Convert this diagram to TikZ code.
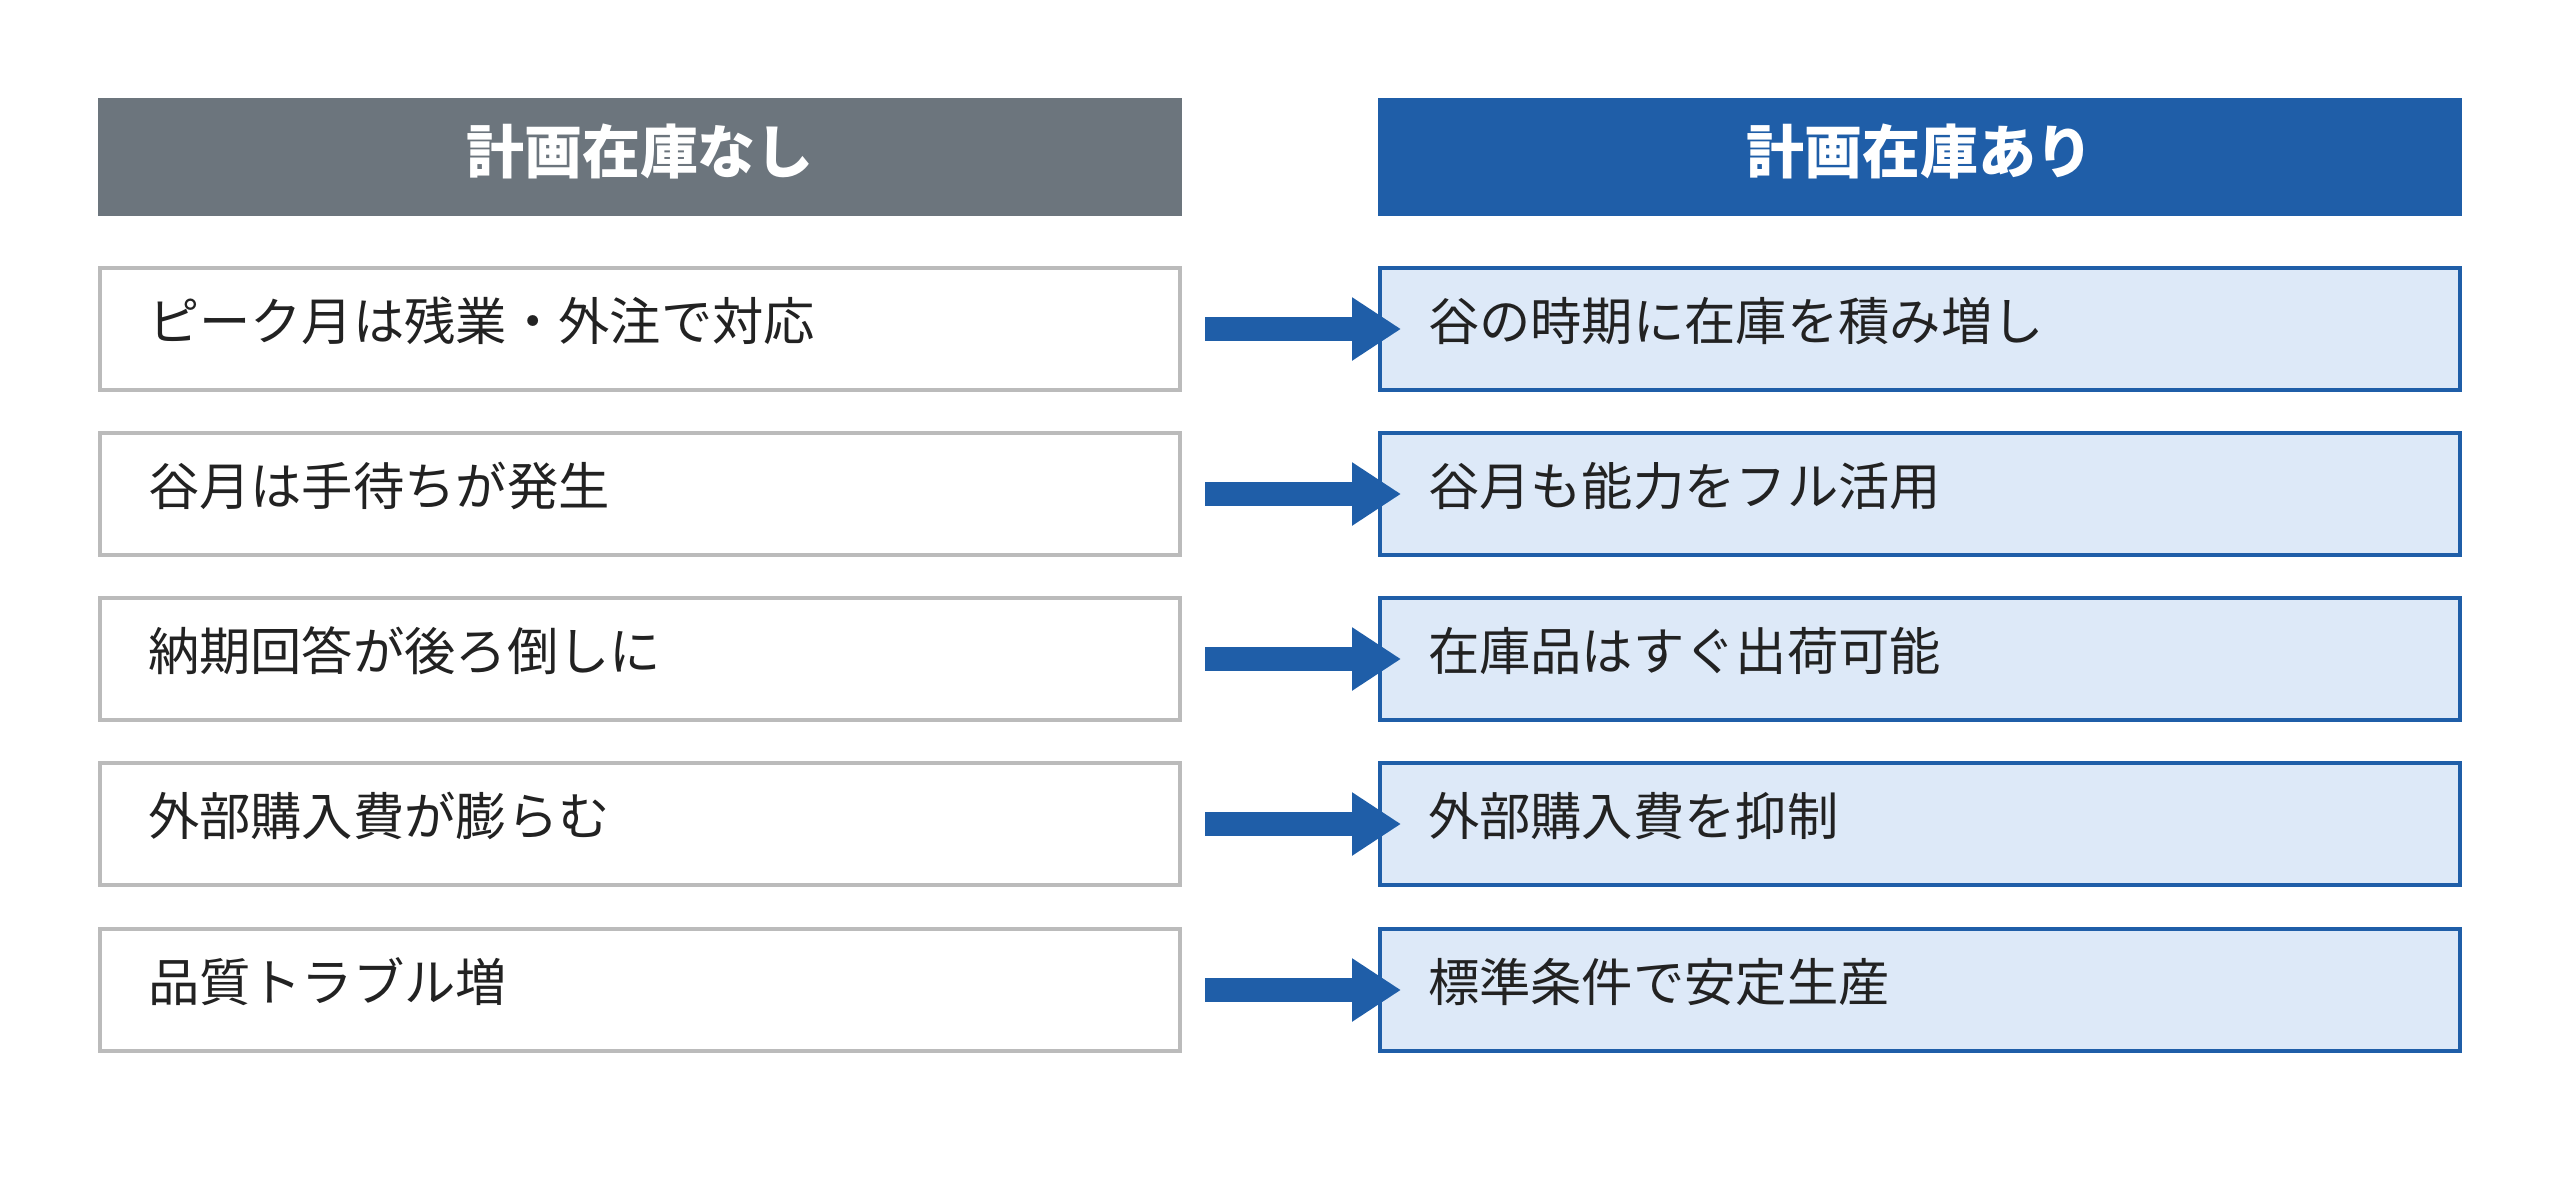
\documentclass[tikz,border=0pt]{standalone}
\usepackage{fontspec}
\setmainfont{Noto Sans CJK JP}
\usetikzlibrary{arrows.meta}
\newcommand*{\colw}{108.0mm}
\newcommand*{\rowh}{12.2mm}
\newcommand*{\txtw}{98.4mm}
\newcommand*{\ashift}{2.3mm}
\definecolor{hdgray}{RGB}{108,117,125}
\definecolor{hdblue}{RGB}{31,94,168}
\definecolor{boxblue}{RGB}{221,233,248}
\definecolor{boxgray}{RGB}{187,187,187}
\definecolor{txtdark}{RGB}{34,34,34}

\begin{document}
\begin{tikzpicture}[x=0.1mm, y=-0.1mm,
    head/.style  = {minimum width=108.4mm, minimum height=11.8mm, inner sep=0pt, text=white,
                    text height=4.3mm, text depth=1.0mm,
                    font=\fontsize{16.5pt}{20pt}\selectfont\bfseries},
    oldbox/.style = {draw=boxgray, line width=0.4mm, fill=white, minimum width=\colw,
                    minimum height=\rowh, text width=\txtw, inner xsep=4.8mm, align=left,
                    text height=3.8mm, text depth=1.6mm,
                    text=txtdark, font=\fontsize{14.6pt}{17pt}\selectfont},
    newbox/.style = {oldbox, draw=hdblue, fill=boxblue},
    bigarrow/.style = {draw=hdblue, line width=2.4mm, -{Triangle[length=4.9mm, width=6mm]}}]
    \useasboundingbox (0,0) rectangle (2560,1191);
        % headers
        \node [head, fill=hdgray] (hl) at ( 640,157) {計画在庫なし};
        \node [head, fill=hdblue] (hr) at (1920,157) {計画在庫あり};
        % left column
        \node [oldbox] (o1) at ( 640,329) {ピーク月は残業・外注で対応};
        \node [oldbox] (o2) at ( 640,494) {谷月は手待ちが発生};
        \node [oldbox] (o3) at ( 640,659) {納期回答が後ろ倒しに};
        \node [oldbox] (o4) at ( 640,824) {外部購入費が膨らむ};
        \node [oldbox] (o5) at ( 640,990) {品質トラブル増};
        % right column
        \node [newbox] (n1) at (1920,329) {谷の時期に在庫を積み増し};
        \node [newbox] (n2) at (1920,494) {谷月も能力をフル活用};
        \node [newbox] (n3) at (1920,659) {在庫品はすぐ出荷可能};
        \node [newbox] (n4) at (1920,824) {外部購入費を抑制};
        \node [newbox] (n5) at (1920,990) {標準条件で安定生産};
        % arrows
        \draw [bigarrow] ([xshift=\ashift]o1.east) -- ([xshift=\ashift]n1.west);
        \draw [bigarrow] ([xshift=\ashift]o2.east) -- ([xshift=\ashift]n2.west);
        \draw [bigarrow] ([xshift=\ashift]o3.east) -- ([xshift=\ashift]n3.west);
        \draw [bigarrow] ([xshift=\ashift]o4.east) -- ([xshift=\ashift]n4.west);
        \draw [bigarrow] ([xshift=\ashift]o5.east) -- ([xshift=\ashift]n5.west);
    \end{tikzpicture}
\end{document}
